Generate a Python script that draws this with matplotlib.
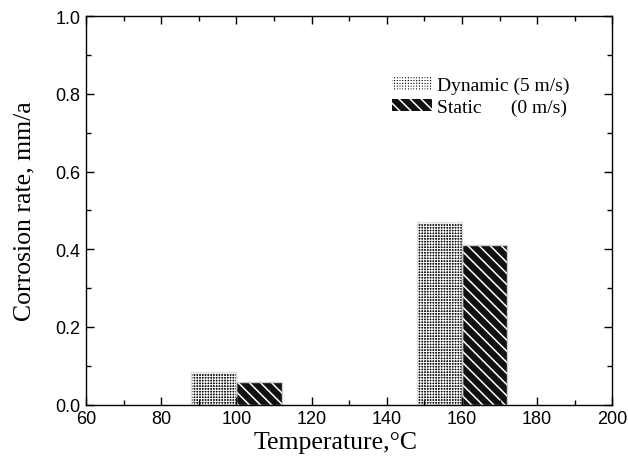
import matplotlib
matplotlib.use("Agg")
import matplotlib.pyplot as plt
from matplotlib.ticker import MultipleLocator
import numpy as np

temperatures = [100, 160]
dynamic_rate = [0.083, 0.470]
static_rate = [0.058, 0.410]
labels = ["Dynamic (5 m/s)", "Static      (0 m/s)"]

plt.rcParams['hatch.linewidth'] = 1.1

fig = plt.figure(figsize=(6.28, 4.64), dpi=100)
ax = fig.add_axes([0.137, 0.126, 0.838, 0.837])

bw = 12
x = np.array(temperatures)
with plt.rc_context({'hatch.linewidth': 0.7}):
    b1 = ax.bar(x - bw / 2, dynamic_rate, width=bw, facecolor='#111111',
                edgecolor='white', hatch='++++++', linewidth=0, label=labels[0])
    for p in b1:
        if hasattr(p, 'set_hatch_linewidth'):
            p.set_hatch_linewidth(0.7)
b2 = ax.bar(x + bw / 2, static_rate, width=bw, facecolor='#111111',
            edgecolor='white', hatch='\\\\\\', linewidth=0, label=labels[1])
# light outlines
for xi, v in zip(x - bw / 2, dynamic_rate):
    ax.bar(xi, v, width=bw, facecolor='none', edgecolor='#dddddd', linewidth=1.0)
for xi, v in zip(x + bw / 2, static_rate):
    ax.bar(xi, v, width=bw, facecolor='none', edgecolor='#cccccc', linewidth=1.0)

ax.set_xlim(60, 200)
ax.set_ylim(0, 1.0)
ax.xaxis.set_major_locator(MultipleLocator(20))
ax.xaxis.set_minor_locator(MultipleLocator(10))
ax.yaxis.set_major_locator(MultipleLocator(0.2))
ax.yaxis.set_minor_locator(MultipleLocator(0.1))
ax.set_yticks(np.arange(0, 1.01, 0.2))
ax.set_yticklabels([f"{v:.1f}" for v in np.arange(0, 1.01, 0.2)])
ax.tick_params(which='both', direction='in', top=True, right=True, width=1.0)
ax.tick_params(which='major', length=6, labelsize=13, pad=4)
ax.tick_params(which='minor', length=3.5)
for lab in ax.get_xticklabels() + ax.get_yticklabels():
    lab.set_fontfamily('Liberation Sans')
for s in ax.spines.values():
    s.set_linewidth(1.0)

ax.set_xlabel("Temperature,°C", fontfamily='Liberation Serif', fontsize=18.5,
              labelpad=3, x=0.475)
ax.set_ylabel("Corrosion rate, mm/a", fontfamily='Liberation Serif', fontsize=18.5, labelpad=14)

leg = ax.legend(handles=[b1, b2], labels=labels, loc='upper left',
                bbox_to_anchor=(0.581, 0.843), frameon=False,
                prop={'family': 'Liberation Serif', 'size': 14},
                handlelength=2.05, handleheight=0.6, handletextpad=0.26,
                labelspacing=0.2, borderaxespad=0, borderpad=0)

fig.savefig("out.png", dpi=100)
